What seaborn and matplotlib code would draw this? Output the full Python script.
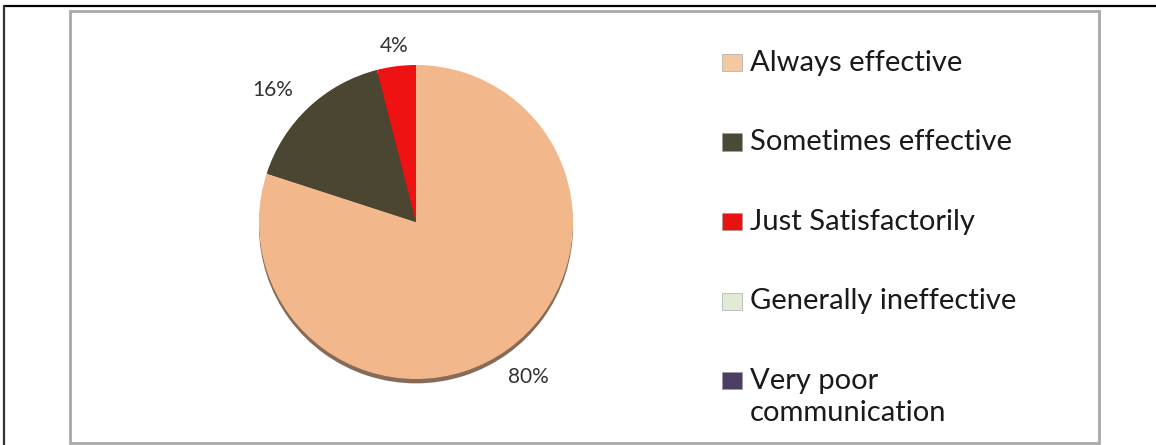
import matplotlib
matplotlib.use("Agg")
import matplotlib.pyplot as plt
import numpy as np
import seaborn as sns
from matplotlib.patches import Rectangle
from matplotlib.lines import Line2D

# Dati
categories = ["Always effective", "Sometimes effective", "Just Satisfactorily",
              "Generally ineffective", "Very poor\ncommunication"]
shares = [80, 16, 4, 0, 0]
slice_colors = ["#F2B88B", "#4A4631", "#EE1212", "#E2ECD6", "#4D3F66"]
legend_colors = ["#F2C9A2", "#4A4A36", "#E81212", "#E0EAD4", "#4B3D63"]

sns.set_theme(style="white")
plt.rcParams['font.family'] = ['Lato', 'DejaVu Sans']

W, H = 1156, 445
fig = plt.figure(figsize=(W / 100, H / 100), dpi=100, facecolor='white')

# Assi della torta (quadrati in pixel)
cx, cy, r = 416, 222, 157
half = r * 1.6
ax = fig.add_axes([(cx - half) / W, (H - cy - half) / H, 2 * half / W, 2 * half / H])

def pct_label(p):
    return f"{p:.0f}%" if p > 0.5 else ""

wedges, texts, autotexts = ax.pie(
    shares,
    colors=sns.color_palette(slice_colors),
    startangle=90,
    counterclock=False,
    autopct=pct_label,
    pctdistance=1.2,
    shadow={'ox': 0.0, 'oy': -0.02, 'shade': 0.5, 'alpha': 0.9},
    wedgeprops={'linewidth': 0},
    textprops={'fontsize': 15, 'color': '#333333'},
)

# Distanze/angoli delle etichette percentuali (stile "best fit" di Excel)
label_dist = [1.22, 1.24, 1.13, 1.2, 1.2]
label_rot = [0, 4, 0, 0, 0]
for w, t, d, da in zip(wedges, autotexts, label_dist, label_rot):
    ang = np.deg2rad((w.theta1 + w.theta2) / 2 + da)
    t.set_position((d * np.cos(ang), d * np.sin(ang)))

ax.set_xlim(-1.6, 1.6)
ax.set_ylim(-1.6, 1.6)
ax.set_aspect('equal')
ax.axis('off')

# Legenda disegnata a mano (marker allineato alla prima riga)
for i, (lab, col) in enumerate(zip(categories, legend_colors)):
    base = 72 + 79.5 * i
    fig.patches.append(Rectangle((722 / W, 1 - (base - 1) / H), 20 / W, 17 / H,
                                 transform=fig.transFigure, facecolor=col,
                                 edgecolor='#9a9a9a', linewidth=0.4))
    fig.text(750 / W, 1 - (base - 22) / H, lab, va='top', ha='left',
             fontsize=21, color='#1a1a1a', linespacing=1.3)

# Cornice interna grigia
fig.patches.append(Rectangle((70 / W, 1 - 443 / H), 1029 / W, 432 / H,
                             transform=fig.transFigure, facecolor='none',
                             edgecolor='#a8a8a8', linewidth=2))
# Bordo esterno (solo sopra e sinistra)
fig.add_artist(Line2D([4 / W, 1], [1 - 6 / H, 1 - 6 / H], color='black', linewidth=1.6))
fig.add_artist(Line2D([4 / W, 4 / W], [0, 1 - 6 / H], color='#333333', linewidth=1.6))

fig.savefig("out.png", dpi=100, facecolor='white')
